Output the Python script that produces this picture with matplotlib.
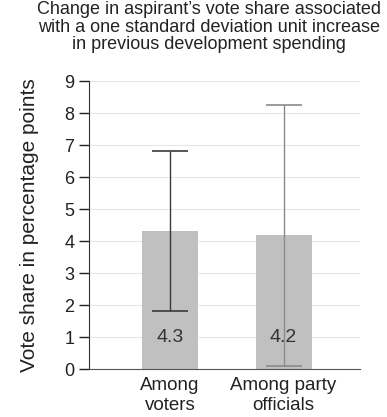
import numpy as np
import matplotlib.pyplot as plt

plt.rcParams['font.family'] = ['Liberation Sans', 'DejaVu Sans']

# estimates and 95% interval bounds
groups = ['Among\nvoters', 'Among party\nofficials']
estimates = [4.3, 4.2]
lower = [1.8, 0.1]
upper = [6.8, 8.25]
err_colors = ['#3a3a3a', '#8a8a8a']

fig = plt.figure(figsize=(3.87, 4.17), dpi=100)
ax = fig.add_axes([89/387, 1 - 369/417, (360-89)/387, (369-81)/417])

x = np.array([170, 283.5])
ax.bar(x, estimates, width=56, color='#c0c0c0', zorder=1)
for xi, est, lo, hi, c in zip(x, estimates, lower, upper, err_colors):
    ax.errorbar([xi], [est], yerr=[[est - lo], [hi - est]], fmt='none',
                ecolor=c, elinewidth=1.0, capsize=13, capthick=1.2, zorder=3)
    ax.text(xi, 1.0, f'{est:.1f}', ha='center', va='center', fontsize=14,
            color='#333333', zorder=4)

ax.set_xlim(89, 360)
ax.set_ylim(0, 9)
ax.set_yticks(range(10))
ax.set_xticks(x)
ax.set_xticklabels(groups, fontsize=13.5, color='#222222', linespacing=1.2)
ax.tick_params(axis='x', length=0, pad=6)
ax.tick_params(axis='y', labelsize=13, length=7.5, width=1, colors='#222222', pad=3)
ax.yaxis.grid(True, color='#e6e6e6', linewidth=0.8, zorder=0)
ax.set_axisbelow(True)
for s in ['top', 'right']:
    ax.spines[s].set_visible(False)
ax.spines['left'].set_color('#333333')
ax.spines['bottom'].set_color('#555555')
ax.set_ylabel('Vote share in percentage points', fontsize=15, color='#222222', labelpad=18)

fig.text(0.54, 0.997, 'Change in aspirant\u2019s vote share associated\n'
         'with a one standard deviation unit increase\n'
         'in previous development spending',
         ha='center', va='top', fontsize=13, color='#222222', linespacing=1.02)

fig.savefig('out.png', dpi=100)
